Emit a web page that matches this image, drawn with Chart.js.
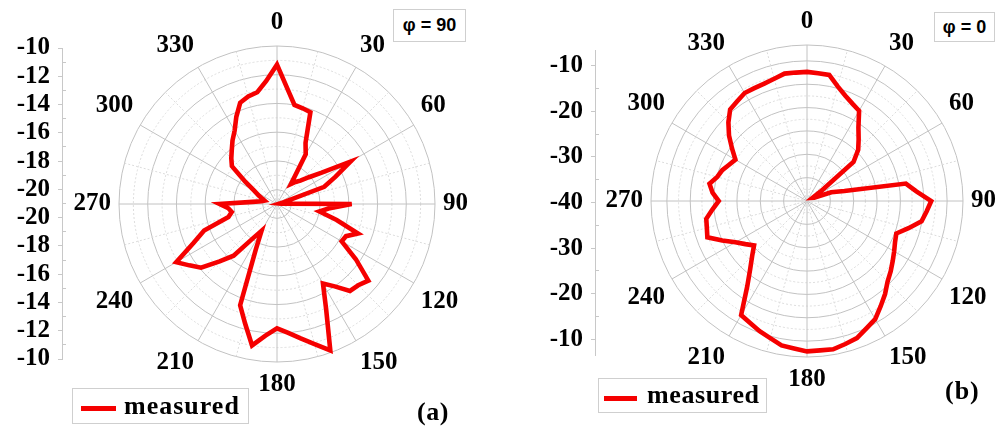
<!DOCTYPE html>
<html>
<head>
<meta charset="utf-8">
<script src="https://cdn.jsdelivr.net/npm/chart.js@4.4.1/dist/chart.umd.min.js"></script>
<style>
html, body { margin:0; padding:0; background:#fff; width:1006px; height:426px; overflow:hidden; }
canvas { position:absolute; }
.frame { position:absolute; box-sizing:border-box; border:1px solid #cfcfcf; background:#fff; }
.serif { position:absolute; font-family:'Liberation Serif','Times New Roman',serif; font-weight:bold; color:#000; white-space:nowrap; line-height:26px; font-size:26px; }
.phi { position:absolute; box-sizing:border-box; border:1px solid #cfcfcf; background:#fff; display:flex; align-items:center; justify-content:center; font-family:'Liberation Sans',Arial,sans-serif; font-weight:bold; font-size:18px; color:#000; white-space:nowrap; }
.swatch { position:absolute; background:rgb(245,0,0); }
</style>
</head>
<body>
<canvas id="axisA" width="66" height="357" style="left:0px;top:25px"></canvas>
<canvas id="polarA" width="490" height="392" style="left:32px;top:8px"></canvas>
<canvas id="axisB" width="66" height="351" style="left:533px;top:27px"></canvas>
<canvas id="polarB" width="490" height="388" style="left:562px;top:7px"></canvas>

<div class="phi" style="left:393px;top:9px;width:73px;height:33px;">φ = 90</div>
<div class="phi" style="left:934px;top:12px;width:61px;height:30px;">φ = 0</div>

<div class="frame" style="left:72px;top:388px;width:177px;height:36px;"></div>
<div class="swatch" style="left:81px;top:406px;width:35px;height:5px;"></div>
<div class="serif" style="left:124px;top:393px;letter-spacing:1px;">measured</div>
<div class="serif" style="left:417px;top:399px;letter-spacing:0.5px;">(a)</div>

<div class="frame" style="left:598px;top:378px;width:169px;height:35px;"></div>
<div class="swatch" style="left:604px;top:396px;width:33px;height:5px;"></div>
<div class="serif" style="left:647px;top:382px;letter-spacing:0.6px;">measured</div>
<div class="serif" style="left:945px;top:378px;letter-spacing:1px;">(b)</div>

<script>
// ---------- data ----------
const categories = ['0','5','10','15','20','25','30','35','40','45','50','55',
  '60','65','70','75','80','85','90','95','100','105','110','115',
  '120','125','130','135','140','145','150','155','160','165','170','175',
  '180','185','190','195','200','205','210','215','220','225','230','235',
  '240','245','250','255','260','265','270','275','280','285','290','295',
  '300','305','310','315','320','325','330','335','340','345','350','355'];

// (a) phi = 90, measured (dB)
const measuredA = [-11.3,-12.9,-14.0,-14.1,-14.2,-16.3,-17.0,-19.3,-19.0,-18.7,-18.1,-17.2,
  -15.1,-16.5,-17.5,-20.5,-20.8,-20.7,-15.8,-17.4,-18.0,-16.7,-15.0,-15.7,
  -15.8,-14.3,-12.7,-13.0,-13.1,-14.0,-14.6,-12.9,-10.15,-10.9,-11.5,-12.0,
  -12.35,-11.8,-11.0,-12.4,-13.5,-17.5,-18.85,-18.1,-16.3,-15.35,-14.1,-13.55,
  -12.9,-14.6,-15.6,-17.5,-17.8,-17.6,-17.0,-19.3,-19.9,-20.1,-19.9,-19.6,
  -19.2,-18.3,-16.9,-16.5,-16.1,-15.6,-15.1,-14.3,-13.5,-13.25,-13.1,-12.4];

// (b) phi = 0, measured (dB)
const measuredB = [-12.35,-12.55,-12.6,-14.6,-16.0,-17.0,-17.7,-20.8,-22.8,-24.5,-27.0,-36.5,
  -38.6,-38.3,-34.5,-31.7,-18.5,-16.5,-13.4,-14.3,-15.1,-17.5,-19.65,-19.2,
  -18.45,-17.6,-16.6,-15.6,-14.0,-12.5,-10.8,-9.9,-8.75,-8.3,-7.75,-7.9,
  -7.8,-8.3,-8.6,-9.6,-10.35,-11.2,-11.8,-17.7,-21.1,-23.4,-25.2,-23.9,
  -22.3,-20.0,-17.3,-17.8,-18.1,-19.7,-21.1,-19.7,-18.8,-20.1,-20.7,-21.6,
  -22.3,-20.4,-18.2,-16.2,-14.4,-13.95,-13.3,-13.35,-13.25,-12.9,-12.3,-12.4];

const rangeA = { min: -21, max: -10 };
const rangeB = { min: -40, max: -6.6 };
const ringTicksA = [-21,-20,-19,-18,-17,-16,-15,-14,-13,-12,-11,-10];
const ringTicksB = [-40,-37.5,-35,-32.5,-30,-27.5,-25,-22.5,-20,-17.5,-15,-12.5,-10,-6.6];
const axisMajorA = [-20,-18,-16,-14,-12,-10];
const axisMinorA = [-21,-19,-17,-15,-13,-11];
const axisMajorB = [-40,-30,-20,-10];
const axisMinorB = [-35,-25,-15];

// ---------- styling ----------
const RED = 'rgb(245,0,0)';
const GRID_DARK = '#c2c2c2';
const GRID_LIGHT = '#dcdcdc';
const AXIS = '#c8c8c8';
const NONE = 'rgba(0,0,0,0)';
const serifFont = { family: "'Liberation Serif', 'Times New Roman', serif", weight: 'bold', size: 25 };
Chart.defaults.font.family = serifFont.family;

function polar(id, values, range, ringTicks, majorStep) {
  const isMajorRing = v => v === range.max || Math.abs(v / majorStep - Math.round(v / majorStep)) < 1e-6;
  return new Chart(document.getElementById(id), {
    type: 'radar',
    data: {
      labels: categories,
      datasets: [{
        label: 'measured', data: values,
        borderColor: RED, backgroundColor: RED, borderWidth: 4.6,
        borderJoinStyle: 'miter', pointRadius: 0, pointHoverRadius: 0,
        fill: false, tension: 0
      }]
    },
    options: {
      responsive: false, animation: false, events: [],
      layout: { padding: 0 },
      plugins: { legend: { display: false }, tooltip: { enabled: false } },
      scales: {
        r: {
          min: range.min, max: range.max,
          afterBuildTicks: s => { s.ticks = ringTicks.map(v => ({ value: v })); },
          ticks: { display: false },
          grid: {
            circular: true, lineWidth: 1,
            color: c => (c.tick && isMajorRing(c.tick.value)) ? GRID_DARK : GRID_LIGHT
          },
          border: {
            dash: c => (c.tick && isMajorRing(c.tick.value)) ? [] : [2, 2]
          },
          angleLines: {
            display: true,
            color: c => (c.index % 6 === 0) ? GRID_DARK : GRID_LIGHT,
            lineWidth: c => (c.index % 3 === 0) ? 1 : 0,
            borderDash: c => (c.index % 6 === 0) ? [] : [2, 2]
          },
          pointLabels: {
            display: true, padding: 8, color: '#000', font: serifFont,
            callback: lbl => (Number(lbl) % 30 === 0 ? lbl : '')
          }
        }
      }
    }
  });
}

function axis(id, range, majors, minors) {
  const span = range.max - range.min;
  const dist = v => Math.round((v - range.min) * 1000) / 1000;
  const majorD = majors.map(dist);
  const minorD = minors.map(dist);
  const tickVals = [];
  majorD.concat(minorD).forEach(d => { tickVals.push(d); if (d !== 0) tickVals.push(-d); });
  tickVals.sort((a, b) => a - b);
  const isMajor = v => majorD.includes(Math.round(Math.abs(v) * 1000) / 1000);
  return new Chart(document.getElementById(id), {
    type: 'scatter',
    data: { datasets: [] },
    options: {
      responsive: false, animation: false, events: [],
      layout: { padding: { top: 20, bottom: 20, left: 0, right: 0 } },
      plugins: { legend: { display: false }, tooltip: { enabled: false } },
      scales: {
        x: { display: false, min: 0, max: 1 },
        y: {
          type: 'linear', position: 'left', min: -span, max: span,
          afterBuildTicks: s => { s.ticks = tickVals.map(v => ({ value: v })); },
          afterFit: s => { s.width = 62; },
          border: { display: true, color: AXIS, width: 1 },
          grid: {
            drawOnChartArea: true, drawTicks: true, tickLength: 4, lineWidth: 1,
            color: c => (c.tick && !isMajor(c.tick.value)) ? AXIS : NONE,
            tickColor: c => (c.tick && isMajor(c.tick.value)) ? AXIS : NONE
          },
          ticks: {
            autoSkip: false, padding: 8, color: '#000', font: serifFont,
            callback: v => isMajor(v) ? String(Math.round((range.min + Math.abs(v)) * 10) / 10) : ''
          }
        }
      }
    }
  });
}

axis('axisA', rangeA, axisMajorA, axisMinorA);
polar('polarA', measuredA, rangeA, ringTicksA, 2);
axis('axisB', rangeB, axisMajorB, axisMinorB);
polar('polarB', measuredB, rangeB, ringTicksB, 5);
</script>
</body>
</html>
